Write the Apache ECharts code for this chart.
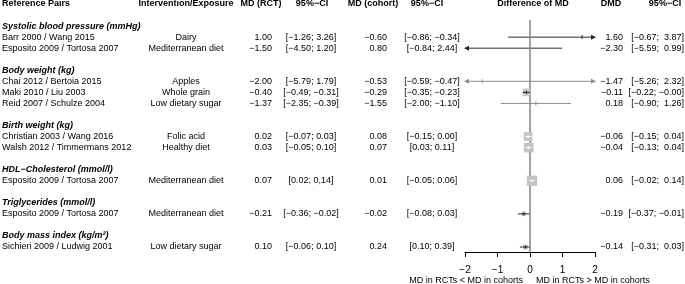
<!DOCTYPE html>
<html>
<head>
<meta charset="utf-8">
<script src="https://cdn.jsdelivr.net/npm/echarts@6/dist/echarts.min.js"></script>
<style>
  html, body { margin: 0; padding: 0; background: #fff; }
  #main { width: 685px; height: 284px; }
</style>
</head>
<body>
<div id="main"></div>
<script>
// data
var groups = ['Systolic blood pressure (mmHg)', 'Body weight (kg)', 'Birth weight (kg)',
  'HDL\u2212Cholesterol (mmol/l)', 'Triglycerides (mmol/l)', 'Body mass index (kg/m\u00b2)'];
var groupOf = [0, 0, 1, 1, 1, 2, 2, 3, 4, 5];
var pairs = ['Barr 2000 / Wang 2015', 'Esposito 2009 / Tortosa 2007', 'Chai 2012 / Bertoia 2015',
  'Maki 2010 / Liu 2003', 'Reid 2007 / Schulze 2004', 'Christian 2003 / Wang 2016',
  'Walsh 2012 / Timmermans 2012', 'Esposito 2009 / Tortosa 2007', 'Esposito 2009 / Tortosa 2007',
  'Sichieri 2009 / Ludwig 2001'];
var exposures = ['Dairy', 'Mediterranean diet', 'Apples', 'Whole grain', 'Low dietary sugar',
  'Folic acid', 'Healthy diet', 'Mediterranean diet', 'Mediterranean diet', 'Low dietary sugar'];
var mdRct = [1.00, -1.50, -2.00, -0.40, -1.37, 0.02, 0.03, 0.07, -0.21, 0.10];
var ciRct = ['[\u22121.26; 3.26]', '[\u22124.50; 1.20]', '[\u22125.79; 1.79]', '[\u22120.49; \u22120.31]',
  '[\u22122.35; \u22120.39]', '[\u22120.07; 0.03]', '[\u22120.05; 0.10]', '[0.02; 0,14]',
  '[\u22120.36; \u22120.02]', '[\u22120.06; 0.10]'];
var mdCohort = [-0.60, 0.80, -0.53, -0.29, -1.55, 0.08, 0.07, 0.01, -0.02, 0.24];
var ciCohort = ['[\u22120.86; \u22120.34]', '[\u22120.84; 2.44]', '[\u22120.59; \u22120.47]',
  '[\u22120.35; \u22120.23]', '[\u22122.00; \u22121.10]', '[\u22120.15; 0.00]', '[0.03; 0.11]',
  '[\u22120.05; 0.06]', '[\u22120.08; 0.03]', '[0.10; 0.39]'];
var dmd = [1.60, -2.30, -1.47, -0.11, 0.18, -0.06, -0.04, 0.06, -0.19, -0.14];
var dmdLo = [-0.67, -5.59, -5.26, -0.22, -0.90, -0.15, -0.13, -0.02, -0.37, -0.31];
var dmdHi = [3.87, 0.99, 2.32, -0.004, 1.26, 0.04, 0.04, 0.14, -0.01, 0.03];
var xTicks = [-2, -1, 0, 1, 2];

var FONT = '"Liberation Sans", Arial, sans-serif';
var xMin = xTicks[0], xMax = xTicks[xTicks.length - 1];
var greyGroups = [1];     // body weight rows drawn in grey
var boxScale = 1.65;      // box side ~ 1 / CI width

function fmt(v) { return v.toFixed(2).replace('-', '\u2212'); }

// row layout: header, blank, group title, studies, blank, ...
var rowOf = [], groupRow = [];
var r = 1;
groups.forEach(function (g, gi) {
  r += 1;
  groupRow[gi] = r;
  pairs.forEach(function (p, i) {
    if (groupOf[i] === gi) { r += 1; rowOf[i] = r; }
  });
  r += 1;
});
var lastRow = rowOf[rowOf.length - 1];

// table grid: row 0 at y=4, last row at y=247
var tTop = 4, tBottom = 247;
var rowPx = (tBottom - tTop) / lastRow;
var fTop = 20, fBottom = 252;

var cols = {
  pair: [2, 'left'], expo: [186, 'center'],
  mdRct: [272, 'right'], ciRct: [311, 'center'],
  mdCoh: [387, 'right'], ciCoh: [432, 'center'],
  dmd: [623, 'right'], ciDmd: [684, 'right']
};

var cells = [];
function cell(x, row, text, align, font) {
  cells.push({ x: x, row: row, text: text, align: align, font: font || ('9px ' + FONT) });
}
var bold = 'bold 9px ' + FONT;
cell(2, 0, 'Reference Pairs', 'left', bold);
cell(186, 0, 'Intervention/Exposure', 'center', bold);
cell(261, 0, 'MD (RCT)', 'center', bold);
cell(312, 0, '95%\u2212CI', 'center', bold);
cell(373, 0, 'MD (cohort)', 'center', bold);
cell(427, 0, '95%\u2212CI', 'center', bold);
cell(533, 0, 'Difference of MD', 'center', bold);
cell(611, 0, 'DMD', 'center', bold);
cell(665, 0, '95%\u2212CI', 'center', bold);

groups.forEach(function (g, gi) {
  cell(2, groupRow[gi], g, 'left', 'italic bold 9px ' + FONT);
});
pairs.forEach(function (p, i) {
  var row = rowOf[i];
  cell(cols.pair[0], row, p, cols.pair[1]);
  cell(cols.expo[0], row, exposures[i], cols.expo[1]);
  cell(cols.mdRct[0], row, fmt(mdRct[i]), cols.mdRct[1]);
  cell(cols.ciRct[0], row, ciRct[i], cols.ciRct[1]);
  cell(cols.mdCoh[0], row, fmt(mdCohort[i]), cols.mdCoh[1]);
  cell(cols.ciCoh[0], row, ciCohort[i], cols.ciCoh[1]);
  cell(cols.dmd[0], row, fmt(dmd[i]), cols.dmd[1]);
  cell(cols.ciDmd[0], row, '[' + fmt(dmdLo[i]) + ';' + (dmdHi[i] < 0 ? ' ' : '  ') + fmt(dmdHi[i]) + ']', cols.ciDmd[1]);
});
// axis captions under the plot
var capRow = (280.5 - tTop) / rowPx;
cell(523, capRow, 'MD in RCTs < MD in cohorts', 'right');
cell(536, capRow, 'MD in RCTs > MD in cohorts', 'left');

var forestData = dmd.map(function (d, i) { return [d, rowOf[i], dmdLo[i], dmdHi[i], i]; });

function lineColor(i) {
  return greyGroups.indexOf(groupOf[i]) >= 0 ? '#8c8c8c' : '#2a2a2a';
}

function arrowHead(x, y, dir, color) {
  return {
    type: 'polygon',
    shape: { points: [[x + dir, y], [x - dir * 4, y - 2.5], [x - dir * 4, y + 2.5]] },
    style: { fill: color }
  };
}

function renderCi(params, api) {
  var row = api.value(1), lo = api.value(2), hi = api.value(3), i = api.value(4);
  var a = api.coord([Math.max(lo, xMin), row]);
  var b = api.coord([Math.min(hi, xMax), row]);
  var color = lineColor(i);
  var kids = [{
    type: 'line',
    shape: { x1: a[0], y1: a[1], x2: b[0], y2: b[1] },
    style: { stroke: color, lineWidth: 1 }
  }];
  if (lo < xMin) kids.push(arrowHead(a[0], a[1], -1, color));
  if (hi > xMax) kids.push(arrowHead(b[0], b[1], 1, color));
  return { type: 'group', children: kids };
}

function renderBox(params, api) {
  var est = api.value(0), row = api.value(1), lo = api.value(2), hi = api.value(3), i = api.value(4);
  if (est < xMin || est > xMax) return null;
  var c = api.coord([est, row]);
  var xl = api.coord([Math.max(lo, xMin), row])[0];
  var xr = api.coord([Math.min(hi, xMax), row])[0];
  var size = boxScale / (hi - lo);
  var color = lineColor(i);
  if (size < 2) {
    return {
      type: 'line',
      shape: { x1: c[0], y1: c[1] - 2, x2: c[0], y2: c[1] + 2 },
      style: { stroke: color, lineWidth: 1 }
    };
  }
  // white whisker when the CI sits inside the box
  var inner = (xr - xl) < size - 1 ? '#ffffff' : '#1a1a1a';
  return {
    type: 'group',
    children: [
      { type: 'rect', shape: { x: c[0] - size / 2, y: c[1] - size / 2, width: size, height: size },
        style: { fill: '#c4c4c4' } },
      { type: 'line', shape: { x1: Math.max(xl, c[0] - size / 2), y1: c[1], x2: Math.min(xr, c[0] + size / 2), y2: c[1] },
        style: { stroke: inner, lineWidth: 1 } },
      { type: 'line', shape: { x1: c[0], y1: c[1] - 1.5, x2: c[0], y2: c[1] + 1.5 },
        style: { stroke: inner, lineWidth: 1 } }
    ]
  };
}

function renderZero(params, api) {
  var cs = params.coordSys;
  var x = api.coord([0, 0])[0];
  return {
    type: 'line',
    shape: { x1: x, y1: cs.y, x2: x, y2: cs.y + cs.height },
    style: { stroke: '#8c8c8c', lineWidth: 1.6 }
  };
}

function renderCell(params, api) {
  var c = cells[api.value(2)];
  var p = api.coord([c.x, c.row]);
  return {
    type: 'text',
    x: p[0], y: p[1],
    style: { text: c.text, font: c.font, fill: '#000', textAlign: c.align, textVerticalAlign: 'middle' }
  };
}

var chart = echarts.init(document.getElementById('main'));
chart.setOption({
  animation: false,
  backgroundColor: '#fff',
  grid: [
    { left: 0, right: 0, top: tTop, bottom: 284 - tBottom },
    { left: 465, right: 90, top: fTop, bottom: 284 - fBottom }
  ],
  xAxis: [
    { gridIndex: 0, type: 'value', min: 0, max: 685, show: false },
    {
      gridIndex: 1, type: 'value', min: xMin, max: xMax, interval: 1,
      axisLine: { show: true, onZero: false, lineStyle: { color: '#000', width: 1 } },
      axisTick: { show: true, length: 5, lineStyle: { color: '#000' } },
      splitLine: { show: false },
      axisLabel: {
        color: '#000', fontSize: 10, fontFamily: FONT, margin: 13,
        formatter: function (v) { return String(v).replace('-', '\u2212'); }
      }
    }
  ],
  yAxis: [
    { gridIndex: 0, type: 'value', min: 0, max: lastRow, inverse: true, show: false },
    { gridIndex: 1, type: 'value', min: (fTop - tTop) / rowPx, max: (fBottom - tTop) / rowPx, inverse: true, show: false }
  ],
  series: [
    {
      type: 'custom', name: 'table', xAxisIndex: 0, yAxisIndex: 0,
      data: cells.map(function (c, i) { return [c.x, c.row, i]; }),
      renderItem: renderCell, silent: true
    },
    {
      type: 'custom', name: 'ci', xAxisIndex: 1, yAxisIndex: 1, z: 2,
      data: forestData, renderItem: renderCi, silent: true
    },
    {
      type: 'custom', name: 'zero', xAxisIndex: 1, yAxisIndex: 1, z: 3,
      data: [[0, 0]], renderItem: renderZero, silent: true
    },
    {
      type: 'custom', name: 'box', xAxisIndex: 1, yAxisIndex: 1, z: 4,
      data: forestData, renderItem: renderBox, silent: true
    }
  ]
});
</script>
</body>
</html>
